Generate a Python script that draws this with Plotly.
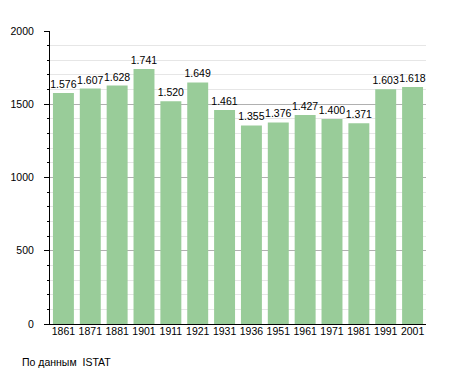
import plotly.graph_objects as go

years = ["1861", "1871", "1881", "1901", "1911", "1921", "1931", "1936",
         "1951", "1961", "1971", "1981", "1991", "2001"]
population = [1576, 1607, 1628, 1741, 1520, 1649, 1461, 1355,
              1376, 1427, 1400, 1371, 1603, 1618]
y_ticks = [0, 500, 1000, 1500, 2000]
source_note = "По данным  ISTAT"

FONT = "Liberation Sans, Arial, sans-serif"

fig = go.Figure()
fig.add_trace(go.Bar(
    x=years, y=population,
    marker=dict(color="#99cc99", line=dict(width=0)),
    texttemplate="%{y:,}", textposition="outside",
    constraintext="none",
    textfont=dict(size=10.5, color="#000000", family=FONT),
    cliponaxis=False,
))

fig.update_layout(
    width=447, height=365,
    margin=dict(l=42, r=29, t=23, b=49),
    paper_bgcolor="white", plot_bgcolor="white",
    separators=",.",
    bargap=0.22,
    showlegend=False,
    font=dict(family=FONT, size=10.5, color="#000000"),
    xaxis=dict(
        type="category",
        automargin=False,
        showline=True, linecolor="#000000", linewidth=1,
        ticks="", showgrid=False,
        tickangle=0,
        tickfont=dict(size=10.5),
        ticklabelstandoff=-3,
    ),
    yaxis=dict(
        range=[0, 2000],
        automargin=False,
        tickvals=y_ticks,
        showline=True, linecolor="#000000", linewidth=1,
        ticks="outside", ticklen=5, tickcolor="#000000",
        showgrid=True, gridcolor="#b0b0b0", gridwidth=1,
        minor=dict(dtick=100, ticks="outside", ticklen=2, tickcolor="#000000",
                   showgrid=True, gridcolor="#e6e6e6", gridwidth=1),
        zeroline=False,
        tickfont=dict(size=10.5),
        ticklabelstandoff=8,
    ),
    annotations=[dict(
        text=source_note, xref="paper", yref="paper",
        x=-0.08, y=-0.13, xanchor="left", yanchor="middle",
        showarrow=False, font=dict(size=10.5),
    )],
)

fig.write_html("out.html")
